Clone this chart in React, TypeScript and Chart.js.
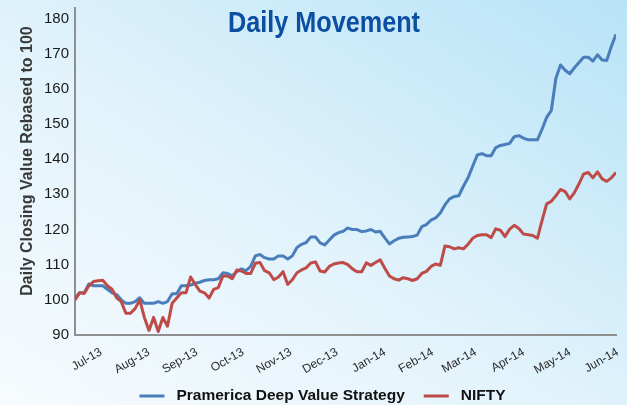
import React, { useEffect, useRef } from 'react';
import { Chart, registerables } from 'chart.js';

Chart.register(...registerables);

const W = 627;
const H = 405;

const startDate = '2013-06-14';
const stepDays = 3;
const monthLabels = ['Jul-13', 'Aug-13', 'Sep-13', 'Oct-13', 'Nov-13', 'Dec-13', 'Jan-14', 'Feb-14', 'Mar-14', 'Apr-14', 'May-14', 'Jun-14'];
const monthStarts = ['2013-07-01', '2013-08-01', '2013-09-01', '2013-10-01', '2013-11-01', '2013-12-01', '2014-01-01', '2014-02-01', '2014-03-01', '2014-04-01', '2014-05-01', '2014-06-01'];
const yTicks = [90, 100, 110, 120, 130, 140, 150, 160, 170, 180];
const seriesNames = ['Pramerica Deep Value Strategy', 'NIFTY'];
const chartTitle = 'Daily Movement';
const yTitle = 'Daily Closing Value Rebased to 100';

const pramerica = [
  100.5, 102, 102, 104.5, 104, 104, 104, 103, 102, 101.5,
  100, 99, 99, 99.5, 100.6, 99, 99, 99, 99.5, 99,
  99.5, 101.7, 101.7, 104, 104, 104.2, 104.7, 105, 105.5, 105.7,
  105.7, 106, 107.7, 107.5, 106.8, 108, 108.8, 108.3, 109.5, 112.5,
  112.9, 112, 111.6, 111.6, 112.5, 112.5, 111.6, 112.5, 114.9, 115.8,
  116.3, 117.9, 117.9, 116.2, 115.6, 117, 118.4, 119.1, 119.5, 120.4,
  120, 120, 119.4, 119.6, 120, 119.3, 119.5, 117.6, 115.9, 116.8,
  117.5, 117.8, 117.9, 118, 118.4, 120.8, 121.4, 122.7, 123.3, 124.7,
  127, 128.7, 129.4, 129.6, 132.3, 134.7, 138, 141.2, 141.6, 141,
  141, 143.3, 143.9, 144.2, 144.5, 146.4, 146.7, 146, 145.5, 145.5,
  145.5, 148.5, 151.9, 153.8, 163, 166.8, 165.3, 164.3, 166, 167.5,
  169, 169, 167.9, 169.7, 168.2, 168.1, 172.1, 175.5,
];

const nifty = [
  100, 102, 101.8, 104, 105.2, 105.4, 105.6, 104, 103, 100.6,
  99.5, 96.2, 96.2, 97.5, 100, 95, 91.3, 95, 91, 95,
  92.5, 99, 100.5, 102, 102, 106.5, 104.4, 102.5, 102, 100.5,
  103, 103.5, 106.8, 106.8, 106, 108.5, 108.2, 107.5, 107.5, 110.4,
  110.6, 108.3, 107.7, 105.7, 106.5, 108, 104.4, 105.7, 107.7, 108.5,
  109.1, 110.5, 110.8, 108.2, 107.9, 109.5, 110.2, 110.5, 110.6, 110,
  108.8, 108, 108, 110.5, 109.8, 110.6, 111.4, 109, 106.8, 106,
  105.6, 106.3, 106, 105.5, 106, 107.5, 108.1, 109.5, 110.2, 109.8,
  115.3, 115.1, 114.5, 114.8, 114.5, 115.8, 117.5, 118.3, 118.5, 118.5,
  117.7, 120.2, 119.8, 118, 120.1, 121.2, 120.3, 118.7, 118.5, 118.3,
  117.5, 122.5, 127.3, 128, 129.6, 131.4, 130.8, 128.7, 130.5, 133,
  135.8, 136.2, 134.7, 136.4, 134.4, 133.7, 134.7, 136.2,
];

const DAY_MS = 86400000;
const dayOf = (s: string) =>
  (Date.parse(s + 'T00:00:00Z') - Date.parse(startDate + 'T00:00:00Z')) / DAY_MS;

const FONT = '"Liberation Sans", Arial, sans-serif';
const BLUE = '#4a7ebb';
const RED = '#be4b48';

const overlay = {
  id: 'overlay',
  afterDraw(chart: any) {
    const ctx = chart.ctx as CanvasRenderingContext2D;
    // Title
    ctx.save();
    ctx.font = `bold 29px ${FONT}`;
    const tw = ctx.measureText(chartTitle).width;
    ctx.translate(324, 32);
    ctx.scale(192 / tw, 1);
    ctx.textAlign = 'center';
    ctx.textBaseline = 'alphabetic';
    ctx.fillStyle = '#0b4ea2';
    ctx.fillText(chartTitle, 0, 0);
    ctx.restore();

    // Y axis title
    ctx.save();
    ctx.translate(31.5, 161);
    ctx.rotate(-Math.PI / 2);
    ctx.font = `bold 16px ${FONT}`;
    ctx.fillStyle = '#3a3a3a';
    ctx.textAlign = 'center';
    ctx.textBaseline = 'alphabetic';
    ctx.fillText(yTitle, 0, 0);
    ctx.restore();

    // Legend
    ctx.save();
    ctx.font = `bold 15.5px ${FONT}`;
    ctx.textBaseline = 'middle';
    ctx.textAlign = 'left';
    const lineW = 25;
    const gap = 12;
    const itemGap = 19;
    const colors = [BLUE, RED];
    const widths = seriesNames.map((n) => ctx.measureText(n).width);
    const total = widths.reduce((a, w) => a + lineW + gap + w, 0) + itemGap * (seriesNames.length - 1);
    let x = 322.5 - total / 2;
    const y = 396;
    seriesNames.forEach((n, i) => {
      ctx.strokeStyle = colors[i];
      ctx.lineWidth = 3;
      ctx.beginPath();
      ctx.moveTo(x, y);
      ctx.lineTo(x + lineW, y);
      ctx.stroke();
      x += lineW + gap;
      ctx.fillStyle = '#111';
      ctx.fillText(n, x, y);
      x += widths[i] + itemGap;
    });
    ctx.restore();
  },
};

export default function App() {
  const ref = useRef<HTMLCanvasElement | null>(null);

  useEffect(() => {
    document.body.style.margin = '0';
    const canvas = ref.current;
    if (!canvas) return;
    const chart = new Chart(canvas, {
      type: 'line',
      data: {
        datasets: [
          {
            label: seriesNames[0],
            data: pramerica.map((v, i) => ({ x: i * stepDays, y: v })),
            borderColor: BLUE,
            borderWidth: 3,
            pointRadius: 0,
            tension: 0,
            borderJoinStyle: 'round',
            order: 1,
          },
          {
            label: seriesNames[1],
            data: nifty.map((v, i) => ({ x: i * stepDays, y: v })),
            borderColor: RED,
            borderWidth: 3,
            pointRadius: 0,
            tension: 0,
            borderJoinStyle: 'round',
            order: 0,
          },
        ],
      },
      options: {
        animation: false,
        responsive: false,
        devicePixelRatio: 1,
        layout: { padding: { top: 8, left: 0, right: 11, bottom: 25 } },
        plugins: {
          legend: { display: false },
          title: { display: false },
          tooltip: { enabled: false },
        },
        scales: {
          x: {
            type: 'linear',
            min: 0,
            max: (pramerica.length - 1) * stepDays,
            grid: { display: false, drawTicks: false },
            border: { display: true, color: '#8f8f8f', width: 2 },
            ticks: {
              autoSkip: false,
              minRotation: 30,
              maxRotation: 30,
              padding: 10,
              color: '#2a2a2a',
              font: { size: 12, family: FONT },
              callback: (_v: any, i: number) => monthLabels[i],
            },
            afterBuildTicks: (s: any) => {
              s.ticks = monthStarts.map((d) => ({ value: dayOf(d) }));
            },
            afterFit: (s: any) => {
              s.height = 45;
              s.paddingLeft = 0;
              s.paddingRight = 0;
            },
          },
          y: {
            type: 'linear',
            min: 90,
            max: 183,
            grid: { display: false, drawTicks: false },
            border: { display: true, color: '#8f8f8f', width: 2 },
            ticks: {
              padding: 6,
              color: '#1a1a1a',
              font: { size: 15, family: FONT },
            },
            afterBuildTicks: (s: any) => {
              s.ticks = yTicks.map((v) => ({ value: v }));
            },
            afterFit: (s: any) => {
              s.width = 75;
              s.paddingTop = 0;
              s.paddingBottom = 0;
            },
          },
        },
      },
      plugins: [overlay],
    } as any);
    return () => chart.destroy();
  }, []);

  return (
    <div
      style={{
        width: W,
        height: H,
        overflow: 'hidden',
        background: 'linear-gradient(to top right, #f7fbfe 0%, #e2f3fb 45%, #b8e3f7 100%)',
      }}
    >
      <canvas ref={ref} width={W} height={H} style={{ display: 'block' }} />
    </div>
  );
}
